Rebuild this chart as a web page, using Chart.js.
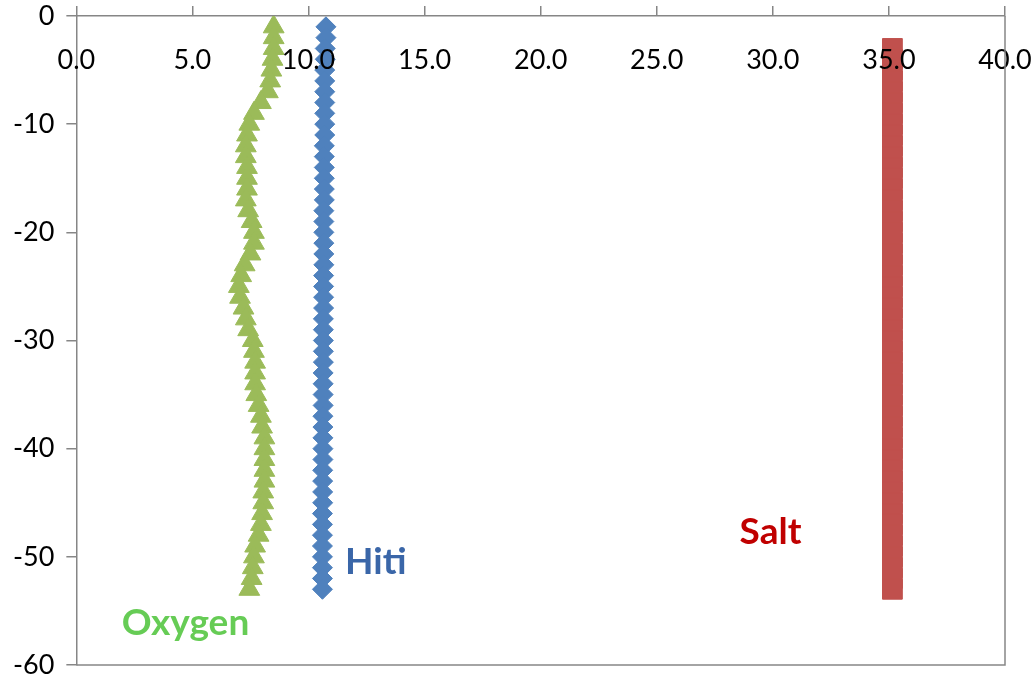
<!DOCTYPE html>
<html>
<head>
<meta charset="utf-8">
<script src="https://cdn.jsdelivr.net/npm/chart.js@4"></script>
<style>
  body { margin: 0; background: #fff; }
  #wrap { width: 1036px; height: 680px; }
</style>
</head>
<body>
<div id="wrap"><canvas id="c" width="1036" height="680"></canvas></div>
<script>
// depth in metres (negative = below surface)
var depth = [-1,-2,-3,-4,-5,-6,-7,-8,-9,-10,-11,-12,-13,-14,-15,-16,-17,-18,-19,-20,
  -21,-22,-23,-24,-25,-26,-27,-28,-29,-30,-31,-32,-33,-34,-35,-36,-37,-38,-39,-40,
  -41,-42,-43,-44,-45,-46,-47,-48,-49,-50,-51,-52,-53];

var hiti = [10.75,10.75,10.72,10.72,10.7,10.7,10.7,10.7,10.7,10.7,10.7,10.68,10.68,10.68,10.68,10.68,10.68,10.66,10.66,10.66,
  10.66,10.66,10.66,10.65,10.65,10.65,10.65,10.64,10.64,10.64,10.64,10.64,10.63,10.63,10.63,10.63,10.62,10.62,10.62,10.62,
  10.62,10.61,10.61,10.61,10.61,10.6,10.6,10.6,10.6,10.6,10.6,10.6,10.6];

var oxygen = [8.5,8.5,8.5,8.45,8.4,8.35,8.25,7.95,7.65,7.45,7.35,7.3,7.3,7.35,7.35,7.35,7.3,7.4,7.55,7.65,
  7.65,7.5,7.25,7.1,7.0,7.05,7.2,7.3,7.4,7.6,7.65,7.7,7.7,7.7,7.75,7.85,7.95,8.0,8.1,8.1,
  8.1,8.1,8.1,8.05,8.05,8.0,7.95,7.85,7.7,7.65,7.6,7.55,7.45];

var saltDepth = [-3,-4,-5,-6,-7,-8,-9,-10,-11,-12,-13,-14,-15,-16,-17,-18,-19,-20,
  -21,-22,-23,-24,-25,-26,-27,-28,-29,-30,-31,-32,-33,-34,-35,-36,-37,-38,-39,-40,
  -41,-42,-43,-44,-45,-46,-47,-48,-49,-50,-51,-52,-53];
var salt = [35.15,35.15,35.15,35.15,35.15,35.15,35.15,35.15,35.15,35.15,35.15,35.15,35.15,35.15,35.15,35.15,35.15,35.15,
  35.15,35.15,35.15,35.15,35.15,35.15,35.15,35.15,35.15,35.15,35.15,35.15,35.15,35.15,35.15,35.15,35.15,35.15,35.15,35.15,
  35.15,35.15,35.15,35.15,35.15,35.15,35.15,35.15,35.15,35.15,35.15,35.15,35.15];

// series name labels, placed in data units
var labelText = ['Oxygen', 'Hiti', 'Salt'];
var labelX = [4.7, 12.9, 29.9];
var labelY = [-56.1, -50.5, -47.7];
var labelColor = ['#66cc55', '#3a66a8', '#c00000'];

function pts(xs, ys) {
  var out = [];
  for (var i = 0; i < xs.length; i++) out.push({x: xs[i], y: ys[i]});
  return out;
}

var axisGray = '#868686';

var seriesLabels = {
  id: 'seriesLabels',
  afterDatasetsDraw: function(chart) {
    var ctx = chart.ctx;
    ctx.save();
    ctx.font = 'bold 37px Lato';
    ctx.textAlign = 'center';
    ctx.textBaseline = 'middle';
    for (var i = 0; i < labelText.length; i++) {
      ctx.fillStyle = labelColor[i];
      ctx.fillText(labelText[i], chart.scales.x.getPixelForValue(labelX[i]), chart.scales.y.getPixelForValue(labelY[i]));
    }
    ctx.restore();
  }
};

var frame = {
  id: 'frame',
  afterDraw: function(chart) {
    var a = chart.chartArea, ctx = chart.ctx;
    ctx.save();
    ctx.strokeStyle = axisGray;
    ctx.lineWidth = 1.5;
    ctx.beginPath();
    ctx.moveTo(a.right, a.top);
    ctx.lineTo(a.right, a.bottom);
    ctx.lineTo(a.left, a.bottom);
    ctx.stroke();
    ctx.restore();
  }
};

// keep tick label overhang from pushing the plot area around
function noPad(s) { s.paddingLeft = 0; s.paddingRight = 0; s.paddingTop = 0; s.paddingBottom = 0; }

Chart.defaults.font.family = 'Lato';
Chart.defaults.font.size = 27;
Chart.defaults.color = '#000';

new Chart(document.getElementById('c'), {
  type: 'scatter',
  data: {
    datasets: [
      { label: 'Salt', data: pts(salt, saltDepth), pointStyle: 'rect', pointRadius: 14,
        backgroundColor: '#c0504d', borderColor: '#c0504d', borderWidth: 1 },
      { label: 'Hiti', data: pts(hiti, depth), pointStyle: 'rectRot', pointRadius: 10,
        backgroundColor: '#4f81bd', borderColor: '#4f81bd', borderWidth: 1 },
      { label: 'Oxygen', data: pts(oxygen, depth), pointStyle: 'triangle', pointRadius: 12,
        backgroundColor: '#9bbb59', borderColor: '#9bbb59', borderWidth: 1 }
    ]
  },
  options: {
    responsive: false,
    animation: false,
    layout: { padding: { left: 1, top: 6, right: 31, bottom: 14 } },
    plugins: { legend: { display: false }, tooltip: { enabled: false } },
    scales: {
      x: {
        position: 'top', min: 0, max: 40,
        ticks: { display: false, stepSize: 5 },
        grid: { drawOnChartArea: false, tickLength: 10, color: axisGray, lineWidth: 1.5 },
        border: { color: axisGray, width: 1.5 },
        afterFit: noPad
      },
      // tick labels sit just under the top axis line, over the markers
      x2: {
        position: { y: 0 }, min: 0, max: 40,
        ticks: { stepSize: 5, padding: 20, z: 1, callback: function(v) { return v.toFixed(1); } },
        grid: { display: false },
        border: { display: false },
        afterFit: noPad
      },
      y: {
        min: -60, max: 0,
        ticks: { stepSize: 10, padding: 12 },
        grid: { drawOnChartArea: false, tickLength: 10, color: axisGray, lineWidth: 1.5 },
        border: { color: axisGray, width: 1.5 },
        afterFit: noPad
      }
    }
  },
  plugins: [seriesLabels, frame]
});
</script>
</body>
</html>
